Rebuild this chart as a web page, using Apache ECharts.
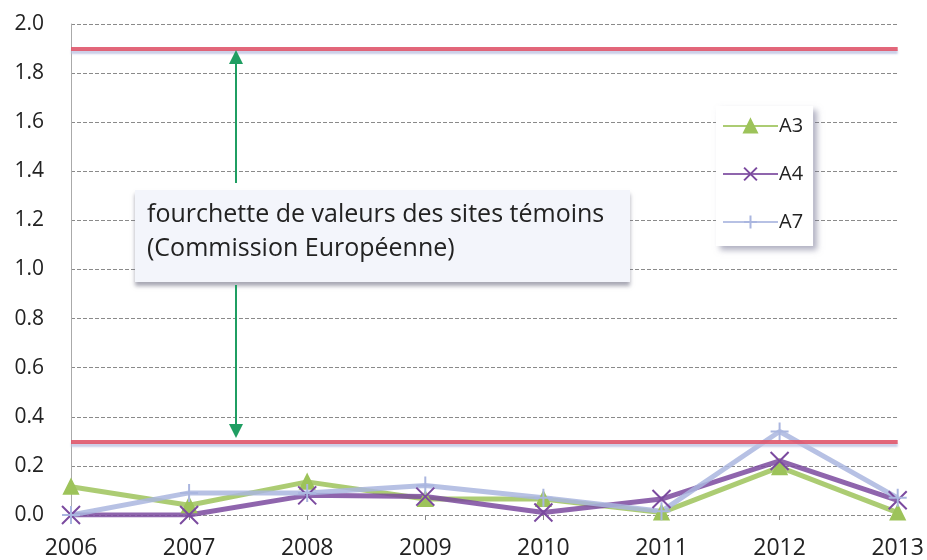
<!DOCTYPE html>
<html>
<head>
<meta charset="utf-8">
<script src="https://cdn.jsdelivr.net/npm/echarts@6/dist/echarts.min.js"></script>
<style>
  html, body { margin: 0; padding: 0; background: #fff; }
  #chart { width: 927px; height: 560px; }
</style>
</head>
<body>
<div id="chart"></div>
<script>
const years = ['2006', '2007', '2008', '2009', '2010', '2011', '2012', '2013']
const a3 = [0.115, 0.04, 0.135, 0.065, 0.065, 0.01, 0.195, 0.01]
const a4 = [0.0, 0.0, 0.08, 0.075, 0.01, 0.065, 0.22, 0.06]
const a7 = [0.0, 0.09, 0.09, 0.12, 0.07, 0.015, 0.34, 0.07]
const rangeLimits = [1.9, 0.3]
const noteLines = ['fourchette de valeurs des sites témoins', '(Commission Européenne)']

const crossPath = 'path://M0,0L10,10M10,0L0,10'
const plusPath = 'path://M5,0L5,10M0,5L10,5'

const chart = echarts.init(document.getElementById('chart'))

function lineSeries(name, data, color, symbol, size) {
  return {
    name,
    type: 'line',
    data,
    symbol,
    symbolSize: size,
    showSymbol: true,
    lineStyle: { color, width: 5, opacity: 0.85 },
    itemStyle: { color, borderColor: color, borderWidth: 2 },
    z: 3,
  }
}

const series = [
  lineSeries('A3', a3, '#9dc35a', 'triangle', 14),
  lineSeries('A4', a4, '#7b4a9f', crossPath, 18),
  lineSeries('A7', a7, '#aab6df', plusPath, 18),
]

series[0].markLine = {
  silent: true,
  symbol: 'none',
  label: { show: false },
  lineStyle: {
    color: '#e0566b', width: 4, type: 'solid', opacity: 0.9,
    shadowColor: 'rgba(190,195,225,0.9)', shadowBlur: 2, shadowOffsetY: 3,
  },
  data: rangeLimits.map(v => ({ yAxis: v })),
}

chart.setOption({
  animation: false,
  textStyle: { fontFamily: 'Open Sans' },
  grid: { left: 71, right: 22, top: 24, bottom: 45 },
  legend: {
    orient: 'vertical',
    left: 716, top: 106,
    itemWidth: 55, itemHeight: 16, itemGap: 28,
    padding: [10, 10, 14, 6],
    backgroundColor: '#fff',
    shadowColor: 'rgba(110,110,140,0.55)', shadowBlur: 6, shadowOffsetX: 4, shadowOffsetY: 4,
    textStyle: { fontSize: 20, color: '#222', padding: [0, 0, 0, -4] },
    data: ['A3', 'A4', 'A7'],
  },
  xAxis: {
    type: 'category',
    data: years,
    boundaryGap: false,
    axisLine: { show: false },
    axisTick: { show: true, length: 5, lineStyle: { color: '#888' } },
    axisLabel: { fontSize: 23, color: '#222', margin: 22 },
    splitLine: { show: false },
  },
  yAxis: {
    type: 'value',
    min: 0, max: 2, interval: 0.2,
    axisLine: { show: true, lineStyle: { color: '#aaa', width: 1 } },
    axisTick: { show: false },
    axisLabel: { fontSize: 21, color: '#222', margin: 27, formatter: v => v.toFixed(1) },
    splitLine: { lineStyle: { color: '#8a8a8a', type: 'dashed', width: 1 } },
  },
  graphic: [
    {
      type: 'rect',
      shape: { x: 135, y: 190, width: 495, height: 92 },
      style: {
        fill: '#f3f5fb',
        shadowColor: 'rgba(110,110,130,0.6)', shadowBlur: 4, shadowOffsetY: 4,
      },
      z: 10,
    },
    {
      type: 'text',
      left: 147, top: 198,
      style: { text: noteLines.join('\n'), fontSize: 25, lineHeight: 34, fill: '#222', fontFamily: 'Open Sans' },
      z: 11,
    },
    {
      type: 'line',
      shape: { x1: 236, y1: 183, x2: 236, y2: 60 },
      style: { stroke: '#1f9e62', lineWidth: 2 },
      z: 10,
    },
    {
      type: 'polygon',
      shape: { points: [[236, 50], [229, 64], [243, 64]] },
      style: { fill: '#1f9e62' },
      z: 10,
    },
    {
      type: 'line',
      shape: { x1: 236, y1: 285, x2: 236, y2: 428 },
      style: { stroke: '#1f9e62', lineWidth: 2 },
      z: 10,
    },
    {
      type: 'polygon',
      shape: { points: [[236, 438], [229, 424], [243, 424]] },
      style: { fill: '#1f9e62' },
      z: 10,
    },
  ],
  series,
})
</script>
</body>
</html>
